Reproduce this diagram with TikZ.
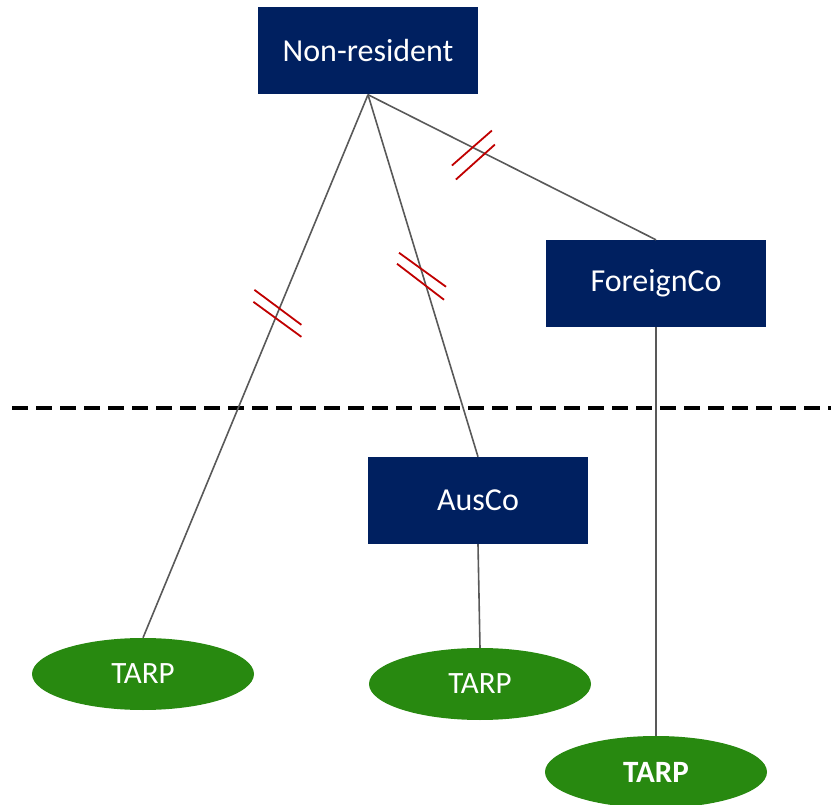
\documentclass[tikz,border=0pt]{standalone}
\usepackage{fontspec}
\setmainfont{Carlito}
\usetikzlibrary{shapes.geometric,calc}
\definecolor{navy}{RGB}{0,32,96}
\definecolor{tarpgreen}{RGB}{40,137,16}
\definecolor{linkgray}{RGB}{89,89,89}
\definecolor{cutred}{RGB}{192,0,0}
\tikzset{
  entity/.style={rectangle, fill=navy, text=white, minimum width=220pt, minimum height=87pt, inner sep=0pt, font=\fontsize{32}{38}\selectfont},
  tarp/.style={ellipse, fill=tarpgreen, text=white, minimum width=222pt, minimum height=72pt, inner sep=0pt, font=\fontsize{31}{37}\selectfont},
  link/.style={draw=linkgray, line width=1.6pt},
  cut/.style={draw=cutred, line width=1.8pt},
  border/.style={draw=black, line width=3.5pt, dash pattern=on 16pt off 8pt}
}
\begin{document}
\begin{tikzpicture}[x=1pt,y=-1pt]
  \useasboundingbox (0,0) rectangle (831,805);
  \clip (0,0) rectangle (831,805);

  % entities
  \node[entity] (nr) at (368,51) {Non-resident};
  \node[entity] (fc) at (656,283.5) {ForeignCo};
  \node[entity] (ac) at (478,500.5) {AusCo};
  \node[tarp] (t1) at (143,674) {TARP};
  \node[tarp] (t2) at (480,684) {TARP};
  \node[tarp] (t3) at (656,772) {\bfseries TARP};

  % border line
  \coordinate (bl) at (12,408);
  \coordinate (br) at (831,408);
  \draw[border] (bl) -- (br);

  % ownership links
  \draw[link] (nr.south) -- coordinate[pos=0.4026] (m1) (t1.north);
  \draw[link] (nr.south) -- coordinate[pos=0.5] (m2) (ac.north);
  \draw[link] (nr.south) -- coordinate[pos=0.385] (m3) (fc.north);
  \draw[link] (fc.south) -- (t3.north);
  \draw[link] (ac.south) -- (t2.north);

  % broken-link marks
  \draw[cut] ($(m1)+(-23,-23.5)$) -- ++(47,35);
  \draw[cut] ($(m1)+(-24,-11.5)$) -- ++(48,35);
  \draw[cut] ($(m2)+(-24,-23)$) -- ++(47,34);
  \draw[cut] ($(m2)+(-26,-12)$) -- ++(47,36);
  \draw[cut] ($(m3)+(-27,15)$) -- ++(40,-35);
  \draw[cut] ($(m3)+(-23,29)$) -- ++(39,-35);
\end{tikzpicture}
\end{document}
